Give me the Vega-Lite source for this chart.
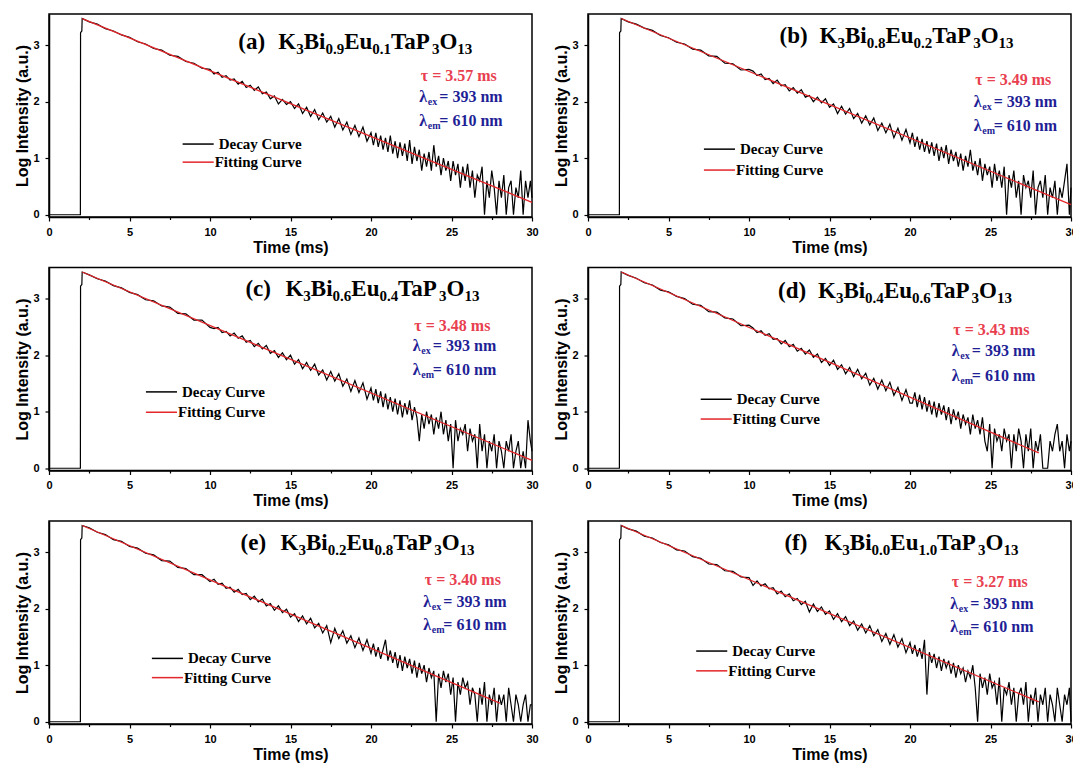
{
"$schema":"https://vega.github.io/schema/vega-lite/v6.json",
"background":"white",
"padding":{"left":14,"top":13,"right":5,"bottom":5},
"datasets":{
"a":[{"t":0,"v":0},{"t":1.95,"v":0},{"t":1.96,"v":3.22},{"t":2.04,"v":3.25},{"t":2.06,"v":3.47},{"t":2.5,"v":3.41},{"t":3,"v":3.37},{"t":3.5,"v":3.29},{"t":4,"v":3.25},{"t":4.5,"v":3.18},{"t":5,"v":3.14},{"t":5.5,"v":3.06},{"t":6,"v":3.02},{"t":6.5,"v":2.94},{"t":7,"v":2.91},{"t":7.5,"v":2.82},{"t":8,"v":2.8},{"t":8.5,"v":2.71},{"t":9,"v":2.68},{"t":9.5,"v":2.59},{"t":10,"v":2.57},
{"t":10.25,"v":2.49},{"t":10.5,"v":2.52},{"t":10.75,"v":2.43},{"t":11,"v":2.46},{"t":11.25,"v":2.38},{"t":11.5,"v":2.4},{"t":11.75,"v":2.31},{"t":12,"v":2.36},{"t":12.25,"v":2.25},{"t":12.5,"v":2.29},{"t":12.75,"v":2.2},{"t":13,"v":2.26},{"t":13.25,"v":2.14},{"t":13.5,"v":2.17},{"t":13.75,"v":2.05},{"t":14,"v":2.1},{"t":14.25,"v":1.96},{"t":14.5,"v":2.04},{"t":14.75,"v":1.95},{"t":15,"v":2.0},{"t":15.25,"v":1.88},{"t":15.5,"v":1.96},{"t":15.75,"v":1.79},{"t":16,"v":1.9},{"t":16.25,"v":1.74},{"t":16.5,"v":1.86},{"t":16.75,"v":1.68},{"t":17,"v":1.8},{"t":17.25,"v":1.64},{"t":17.5,"v":1.74},{"t":17.75,"v":1.55},{"t":18,"v":1.7},{"t":18.25,"v":1.5},{"t":18.5,"v":1.64},{"t":18.75,"v":1.42},{"t":19,"v":1.58},{"t":19.25,"v":1.38},{"t":19.5,"v":1.55},{"t":19.75,"v":1.3},{"t":20,"v":1.45},
{"t":20.15,"v":1.23},{"t":20.3,"v":1.45},{"t":20.45,"v":1.2},{"t":20.6,"v":1.4},{"t":20.75,"v":1.15},{"t":20.9,"v":1.36},{"t":21.05,"v":1.11},{"t":21.2,"v":1.4},{"t":21.35,"v":1.08},{"t":21.5,"v":1.3},{"t":21.65,"v":1.0},{"t":21.8,"v":1.28},{"t":21.95,"v":1.04},{"t":22.1,"v":1.26},{"t":22.25,"v":0.95},{"t":22.4,"v":1.32},{"t":22.55,"v":0.9},{"t":22.7,"v":1.2},{"t":22.85,"v":0.95},{"t":23,"v":1.15},{"t":23.15,"v":0.78},{"t":23.3,"v":1.08},{"t":23.45,"v":0.85},{"t":23.6,"v":1.11},{"t":23.75,"v":0.78},{"t":23.9,"v":1.23},{"t":24.05,"v":0.85},{"t":24.2,"v":1.04},{"t":24.35,"v":0.7},{"t":24.5,"v":1.0},{"t":24.65,"v":0.78},{"t":24.8,"v":0.95},{"t":24.95,"v":0.6},{"t":25.1,"v":0.95},{"t":25.25,"v":0.7},{"t":25.4,"v":0.9},{"t":25.55,"v":0.48},{"t":25.7,"v":0.85},{"t":25.85,"v":0.6},{"t":26,"v":0.9},{"t":26.15,"v":0.48},{"t":26.3,"v":0.78},{"t":26.45,"v":0.3},{"t":26.6,"v":0.7},{"t":26.75,"v":0.6},{"t":26.9,"v":0.85},{"t":27.05,"v":0},{"t":27.2,"v":0.6},{"t":27.35,"v":0.3},{"t":27.5,"v":0.78},{"t":27.65,"v":0.48},{"t":27.8,"v":0},{"t":27.95,"v":0.6},{"t":28.1,"v":0.3},{"t":28.25,"v":0.7},{"t":28.4,"v":0},{"t":28.55,"v":0.48},{"t":28.7,"v":0.6},{"t":28.85,"v":0},{"t":29,"v":0.48},{"t":29.15,"v":0.3},{"t":29.3,"v":0.78},{"t":29.45,"v":0},{"t":29.6,"v":0.6},{"t":29.75,"v":0.3},{"t":29.9,"v":0.6},{"t":30,"v":0.3}],
"b":[{"t":0,"v":0},{"t":1.95,"v":0},{"t":1.96,"v":3.22},{"t":2.04,"v":3.25},{"t":2.06,"v":3.47},{"t":2.5,"v":3.41},{"t":3,"v":3.37},{"t":3.5,"v":3.3},{"t":4,"v":3.26},{"t":4.5,"v":3.17},{"t":5,"v":3.13},{"t":5.5,"v":3.05},{"t":6,"v":3.02},{"t":6.5,"v":2.93},{"t":7,"v":2.91},{"t":7.5,"v":2.81},{"t":8,"v":2.8},{"t":8.5,"v":2.68},{"t":9,"v":2.67},{"t":9.5,"v":2.56},{"t":10,"v":2.57},
{"t":10.25,"v":2.54},{"t":10.5,"v":2.46},{"t":10.75,"v":2.49},{"t":11,"v":2.39},{"t":11.25,"v":2.41},{"t":11.5,"v":2.32},{"t":11.75,"v":2.38},{"t":12,"v":2.28},{"t":12.25,"v":2.3},{"t":12.5,"v":2.19},{"t":12.75,"v":2.25},{"t":13,"v":2.15},{"t":13.25,"v":2.21},{"t":13.5,"v":2.08},{"t":13.75,"v":2.11},{"t":14,"v":2.0},{"t":14.25,"v":2.08},{"t":14.5,"v":1.98},{"t":14.75,"v":2.05},{"t":15,"v":1.9},{"t":15.25,"v":1.96},{"t":15.5,"v":1.79},{"t":15.75,"v":1.92},{"t":16,"v":1.78},{"t":16.25,"v":1.88},{"t":16.5,"v":1.7},{"t":16.75,"v":1.79},{"t":17,"v":1.62},{"t":17.25,"v":1.75},{"t":17.5,"v":1.59},{"t":17.75,"v":1.71},{"t":18,"v":1.49},{"t":18.25,"v":1.62},{"t":18.5,"v":1.45},{"t":18.75,"v":1.6},{"t":19,"v":1.36},{"t":19.25,"v":1.53},{"t":19.5,"v":1.32},{"t":19.75,"v":1.51},{"t":20,"v":1.27},
{"t":20.15,"v":1.45},{"t":20.3,"v":1.2},{"t":20.45,"v":1.38},{"t":20.6,"v":1.15},{"t":20.75,"v":1.34},{"t":20.9,"v":1.11},{"t":21.05,"v":1.3},{"t":21.2,"v":1.08},{"t":21.35,"v":1.28},{"t":21.5,"v":1.04},{"t":21.65,"v":1.26},{"t":21.8,"v":0.95},{"t":21.95,"v":1.2},{"t":22.1,"v":1.0},{"t":22.25,"v":1.23},{"t":22.4,"v":0.9},{"t":22.55,"v":1.15},{"t":22.7,"v":0.95},{"t":22.85,"v":1.11},{"t":23,"v":0.85},{"t":23.15,"v":1.08},{"t":23.3,"v":0.78},{"t":23.45,"v":1.04},{"t":23.6,"v":0.85},{"t":23.75,"v":1.15},{"t":23.9,"v":0.78},{"t":24.05,"v":0.95},{"t":24.2,"v":0.7},{"t":24.35,"v":1.0},{"t":24.5,"v":0.6},{"t":24.65,"v":0.9},{"t":24.8,"v":0.7},{"t":24.95,"v":0.85},{"t":25.1,"v":0.48},{"t":25.25,"v":0.9},{"t":25.4,"v":0.6},{"t":25.55,"v":0.78},{"t":25.7,"v":0.48},{"t":25.85,"v":0.85},{"t":26,"v":0},{"t":26.15,"v":0.7},{"t":26.3,"v":0.48},{"t":26.45,"v":0.78},{"t":26.6,"v":0.3},{"t":26.75,"v":0.6},{"t":26.9,"v":0},{"t":27.05,"v":0.7},{"t":27.2,"v":0.48},{"t":27.35,"v":0.6},{"t":27.5,"v":0.3},{"t":27.65,"v":0.78},{"t":27.8,"v":0},{"t":27.95,"v":0.48},{"t":28.1,"v":0.6},{"t":28.25,"v":0.3},{"t":28.4,"v":0.7},{"t":28.55,"v":0},{"t":28.7,"v":0.48},{"t":28.85,"v":0.3},{"t":29,"v":0.6},{"t":29.15,"v":0},{"t":29.3,"v":0.48},{"t":29.45,"v":0.3},{"t":29.6,"v":0.6},{"t":29.75,"v":0.9},{"t":29.9,"v":0},{"t":30,"v":0.48}],
"c":[{"t":0,"v":0},{"t":1.95,"v":0},{"t":1.96,"v":3.22},{"t":2.04,"v":3.25},{"t":2.06,"v":3.47},{"t":2.5,"v":3.42},{"t":3,"v":3.35},{"t":3.5,"v":3.31},{"t":4,"v":3.23},{"t":4.5,"v":3.19},{"t":5,"v":3.11},{"t":5.5,"v":3.07},{"t":6,"v":2.98},{"t":6.5,"v":2.96},{"t":7,"v":2.87},{"t":7.5,"v":2.85},{"t":8,"v":2.74},{"t":8.5,"v":2.73},{"t":9,"v":2.62},{"t":9.5,"v":2.62},{"t":10,"v":2.49},
{"t":10.25,"v":2.47},{"t":10.5,"v":2.49},{"t":10.75,"v":2.4},{"t":11,"v":2.42},{"t":11.25,"v":2.34},{"t":11.5,"v":2.39},{"t":11.75,"v":2.3},{"t":12,"v":2.34},{"t":12.25,"v":2.23},{"t":12.5,"v":2.26},{"t":12.75,"v":2.15},{"t":13,"v":2.21},{"t":13.25,"v":2.11},{"t":13.5,"v":2.17},{"t":13.75,"v":2.03},{"t":14,"v":2.08},{"t":14.25,"v":1.96},{"t":14.5,"v":2.04},{"t":14.75,"v":1.92},{"t":15,"v":2.0},{"t":15.25,"v":1.84},{"t":15.5,"v":1.92},{"t":15.75,"v":1.76},{"t":16,"v":1.87},{"t":16.25,"v":1.73},{"t":16.5,"v":1.84},{"t":16.75,"v":1.65},{"t":17,"v":1.74},{"t":17.25,"v":1.56},{"t":17.5,"v":1.71},{"t":17.75,"v":1.54},{"t":18,"v":1.67},{"t":18.25,"v":1.45},{"t":18.5,"v":1.58},{"t":18.75,"v":1.36},{"t":19,"v":1.55},{"t":19.25,"v":1.34},{"t":19.5,"v":1.51},{"t":19.75,"v":1.22},{"t":20,"v":1.42},
{"t":20.15,"v":1.2},{"t":20.3,"v":1.4},{"t":20.45,"v":1.15},{"t":20.6,"v":1.36},{"t":20.75,"v":1.08},{"t":20.9,"v":1.32},{"t":21.05,"v":1.04},{"t":21.2,"v":1.26},{"t":21.35,"v":1.0},{"t":21.5,"v":1.23},{"t":21.65,"v":0.95},{"t":21.8,"v":1.2},{"t":21.95,"v":0.9},{"t":22.1,"v":1.15},{"t":22.25,"v":0.95},{"t":22.4,"v":1.2},{"t":22.55,"v":0.85},{"t":22.7,"v":1.08},{"t":22.85,"v":0.9},{"t":23,"v":0.48},{"t":23.15,"v":0.95},{"t":23.3,"v":0.7},{"t":23.45,"v":1.0},{"t":23.6,"v":0.78},{"t":23.75,"v":0.95},{"t":23.9,"v":0.6},{"t":24.05,"v":0.9},{"t":24.2,"v":0.7},{"t":24.35,"v":1.0},{"t":24.5,"v":0.6},{"t":24.65,"v":0.85},{"t":24.8,"v":0.48},{"t":24.95,"v":0.78},{"t":25.1,"v":0},{"t":25.25,"v":0.85},{"t":25.4,"v":0.48},{"t":25.55,"v":0.7},{"t":25.7,"v":0.6},{"t":25.85,"v":0.78},{"t":26,"v":0.3},{"t":26.15,"v":0.7},{"t":26.3,"v":0.48},{"t":26.45,"v":0.6},{"t":26.6,"v":0},{"t":26.75,"v":0.78},{"t":26.9,"v":0.3},{"t":27.05,"v":0.6},{"t":27.2,"v":0},{"t":27.35,"v":0.48},{"t":27.5,"v":0.3},{"t":27.65,"v":0.6},{"t":27.8,"v":0},{"t":27.95,"v":0.48},{"t":28.1,"v":0.3},{"t":28.25,"v":0},{"t":28.4,"v":0.48},{"t":28.55,"v":0.3},{"t":28.7,"v":0.6},{"t":28.85,"v":0},{"t":29,"v":0.3},{"t":29.15,"v":0.48},{"t":29.3,"v":0},{"t":29.45,"v":0.3},{"t":29.6,"v":0},{"t":29.75,"v":0.85},{"t":29.9,"v":0.48},{"t":30,"v":0.3}],
"d":[{"t":0,"v":0},{"t":1.95,"v":0},{"t":1.96,"v":3.22},{"t":2.04,"v":3.25},{"t":2.06,"v":3.47},{"t":2.5,"v":3.41},{"t":3,"v":3.36},{"t":3.5,"v":3.28},{"t":4,"v":3.24},{"t":4.5,"v":3.15},{"t":5,"v":3.12},{"t":5.5,"v":3.04},{"t":6,"v":3.0},{"t":6.5,"v":2.9},{"t":7,"v":2.88},{"t":7.5,"v":2.77},{"t":8,"v":2.76},{"t":8.5,"v":2.66},{"t":9,"v":2.64},{"t":9.5,"v":2.52},{"t":10,"v":2.53},
{"t":10.25,"v":2.48},{"t":10.5,"v":2.4},{"t":10.75,"v":2.43},{"t":11,"v":2.35},{"t":11.25,"v":2.38},{"t":11.5,"v":2.28},{"t":11.75,"v":2.29},{"t":12,"v":2.2},{"t":12.25,"v":2.26},{"t":12.5,"v":2.15},{"t":12.75,"v":2.19},{"t":13,"v":2.07},{"t":13.25,"v":2.12},{"t":13.5,"v":2.02},{"t":13.75,"v":2.09},{"t":14,"v":1.96},{"t":14.25,"v":2.02},{"t":14.5,"v":1.87},{"t":14.75,"v":1.94},{"t":15,"v":1.82},{"t":15.25,"v":1.91},{"t":15.5,"v":1.75},{"t":15.75,"v":1.83},{"t":16,"v":1.67},{"t":16.25,"v":1.78},{"t":16.5,"v":1.62},{"t":16.75,"v":1.75},{"t":17,"v":1.58},{"t":17.25,"v":1.68},{"t":17.5,"v":1.47},{"t":17.75,"v":1.59},{"t":18,"v":1.4},{"t":18.25,"v":1.56},{"t":18.5,"v":1.37},{"t":18.75,"v":1.52},{"t":19,"v":1.29},{"t":19.25,"v":1.43},{"t":19.5,"v":1.2},{"t":19.75,"v":1.39},{"t":20,"v":1.15},
{"t":20.15,"v":1.15},{"t":20.3,"v":1.34},{"t":20.45,"v":1.08},{"t":20.6,"v":1.3},{"t":20.75,"v":1.04},{"t":20.9,"v":1.26},{"t":21.05,"v":1.0},{"t":21.2,"v":1.2},{"t":21.35,"v":0.95},{"t":21.5,"v":1.18},{"t":21.65,"v":0.9},{"t":21.8,"v":1.15},{"t":21.95,"v":0.95},{"t":22.1,"v":1.11},{"t":22.25,"v":0.85},{"t":22.4,"v":1.08},{"t":22.55,"v":0.78},{"t":22.7,"v":1.04},{"t":22.85,"v":0.85},{"t":23,"v":1.0},{"t":23.15,"v":0.7},{"t":23.3,"v":0.95},{"t":23.45,"v":0.78},{"t":23.6,"v":0.9},{"t":23.75,"v":0.6},{"t":23.9,"v":0.95},{"t":24.05,"v":0.7},{"t":24.2,"v":0.85},{"t":24.35,"v":0.6},{"t":24.5,"v":0.9},{"t":24.65,"v":0.48},{"t":24.8,"v":0.3},{"t":24.95,"v":0.78},{"t":25.1,"v":0},{"t":25.25,"v":0.7},{"t":25.4,"v":0.48},{"t":25.55,"v":0.6},{"t":25.7,"v":0.3},{"t":25.85,"v":0.7},{"t":26,"v":0.48},{"t":26.15,"v":0.6},{"t":26.3,"v":0},{"t":26.45,"v":0.6},{"t":26.6,"v":0.3},{"t":26.75,"v":0.7},{"t":26.9,"v":0.48},{"t":27.05,"v":0},{"t":27.2,"v":0.6},{"t":27.35,"v":0.3},{"t":27.5,"v":0.7},{"t":27.65,"v":0},{"t":27.8,"v":0.48},{"t":27.95,"v":0.3},{"t":28.1,"v":0.6},{"t":28.25,"v":0},{"t":28.4,"v":0},{"t":28.55,"v":0},{"t":28.7,"v":0.48},{"t":28.85,"v":0.3},{"t":29,"v":0.6},{"t":29.15,"v":0.78},{"t":29.3,"v":0.3},{"t":29.45,"v":0.48},{"t":29.6,"v":0},{"t":29.75,"v":0.6},{"t":29.9,"v":0.3},{"t":30,"v":0.48}],
"e":[{"t":0,"v":0},{"t":1.95,"v":0},{"t":1.96,"v":3.22},{"t":2.04,"v":3.25},{"t":2.06,"v":3.47},{"t":2.5,"v":3.43},{"t":3,"v":3.35},{"t":3.5,"v":3.31},{"t":4,"v":3.22},{"t":4.5,"v":3.19},{"t":5,"v":3.1},{"t":5.5,"v":3.07},{"t":6,"v":2.98},{"t":6.5,"v":2.95},{"t":7,"v":2.85},{"t":7.5,"v":2.84},{"t":8,"v":2.73},{"t":8.5,"v":2.71},{"t":9,"v":2.6},{"t":9.5,"v":2.6},{"t":10,"v":2.48},
{"t":10.25,"v":2.52},{"t":10.5,"v":2.43},{"t":10.75,"v":2.45},{"t":11,"v":2.36},{"t":11.25,"v":2.38},{"t":11.5,"v":2.29},{"t":11.75,"v":2.34},{"t":12,"v":2.25},{"t":12.25,"v":2.27},{"t":12.5,"v":2.16},{"t":12.75,"v":2.22},{"t":13,"v":2.12},{"t":13.25,"v":2.17},{"t":13.5,"v":2.05},{"t":13.75,"v":2.09},{"t":14,"v":1.97},{"t":14.25,"v":2.05},{"t":14.5,"v":1.93},{"t":14.75,"v":1.99},{"t":15,"v":1.85},{"t":15.25,"v":1.91},{"t":15.5,"v":1.77},{"t":15.75,"v":1.87},{"t":16,"v":1.73},{"t":16.25,"v":1.83},{"t":16.5,"v":1.66},{"t":16.75,"v":1.74},{"t":17,"v":1.57},{"t":17.25,"v":1.7},{"t":17.5,"v":1.4},{"t":17.75,"v":1.65},{"t":18,"v":1.47},{"t":18.25,"v":1.61},{"t":18.5,"v":1.39},{"t":18.75,"v":1.52},{"t":19,"v":1.31},{"t":19.25,"v":1.48},{"t":19.5,"v":1.26},{"t":19.75,"v":1.45},{"t":20,"v":1.21},
{"t":20.15,"v":1.38},{"t":20.3,"v":1.15},{"t":20.45,"v":1.32},{"t":20.6,"v":1.11},{"t":20.75,"v":1.28},{"t":20.9,"v":1.45},{"t":21.05,"v":1.08},{"t":21.2,"v":1.26},{"t":21.35,"v":1.04},{"t":21.5,"v":1.23},{"t":21.65,"v":0.95},{"t":21.8,"v":1.18},{"t":21.95,"v":0.9},{"t":22.1,"v":1.15},{"t":22.25,"v":0.95},{"t":22.4,"v":1.11},{"t":22.55,"v":0.85},{"t":22.7,"v":1.08},{"t":22.85,"v":0.78},{"t":23,"v":1.04},{"t":23.15,"v":0.85},{"t":23.3,"v":1.0},{"t":23.45,"v":0.7},{"t":23.6,"v":0.95},{"t":23.75,"v":0.78},{"t":23.9,"v":0.9},{"t":24.05,"v":0},{"t":24.2,"v":0.85},{"t":24.35,"v":0.6},{"t":24.5,"v":0.9},{"t":24.65,"v":0.7},{"t":24.8,"v":0.85},{"t":24.95,"v":0.48},{"t":25.1,"v":0.78},{"t":25.25,"v":0},{"t":25.4,"v":0.7},{"t":25.55,"v":0.48},{"t":25.7,"v":0.78},{"t":25.85,"v":0.6},{"t":26,"v":0.7},{"t":26.15,"v":0.3},{"t":26.3,"v":0.6},{"t":26.45,"v":0.48},{"t":26.6,"v":0},{"t":26.75,"v":0.6},{"t":26.9,"v":0.3},{"t":27.05,"v":0.7},{"t":27.2,"v":0},{"t":27.35,"v":0.48},{"t":27.5,"v":0.3},{"t":27.65,"v":0.6},{"t":27.8,"v":0},{"t":27.95,"v":0.48},{"t":28.1,"v":0.3},{"t":28.25,"v":0.48},{"t":28.4,"v":0},{"t":28.55,"v":0.6},{"t":28.7,"v":0.3},{"t":28.85,"v":0},{"t":29,"v":0.48},{"t":29.15,"v":0.3},{"t":29.3,"v":0},{"t":29.45,"v":0.3},{"t":29.6,"v":0.48},{"t":29.75,"v":0},{"t":29.9,"v":0.3},{"t":30,"v":0.3}],
"f":[{"t":0,"v":0},{"t":1.95,"v":0},{"t":1.96,"v":3.22},{"t":2.04,"v":3.25},{"t":2.06,"v":3.47},{"t":2.5,"v":3.41},{"t":3,"v":3.37},{"t":3.5,"v":3.28},{"t":4,"v":3.25},{"t":4.5,"v":3.17},{"t":5,"v":3.13},{"t":5.5,"v":3.04},{"t":6,"v":3.02},{"t":6.5,"v":2.92},{"t":7,"v":2.89},{"t":7.5,"v":2.79},{"t":8,"v":2.78},{"t":8.5,"v":2.67},{"t":9,"v":2.66},{"t":9.5,"v":2.56},{"t":10,"v":2.55},
{"t":10.25,"v":2.41},{"t":10.5,"v":2.49},{"t":10.75,"v":2.4},{"t":11,"v":2.44},{"t":11.25,"v":2.35},{"t":11.5,"v":2.37},{"t":11.75,"v":2.26},{"t":12,"v":2.31},{"t":12.25,"v":2.21},{"t":12.5,"v":2.26},{"t":12.75,"v":2.14},{"t":13,"v":2.18},{"t":13.25,"v":2.07},{"t":13.5,"v":2.13},{"t":13.75,"v":1.94},{"t":14,"v":2.08},{"t":14.25,"v":1.95},{"t":14.5,"v":2.03},{"t":14.75,"v":1.9},{"t":15,"v":1.96},{"t":15.25,"v":1.81},{"t":15.5,"v":1.91},{"t":15.75,"v":1.77},{"t":16,"v":1.86},{"t":16.25,"v":1.7},{"t":16.5,"v":1.78},{"t":16.75,"v":1.62},{"t":17,"v":1.73},{"t":17.25,"v":1.57},{"t":17.5,"v":1.7},{"t":17.75,"v":1.52},{"t":18,"v":1.63},{"t":18.25,"v":1.42},{"t":18.5,"v":1.56},{"t":18.75,"v":1.37},{"t":19,"v":1.54},{"t":19.25,"v":1.32},{"t":19.5,"v":1.47},{"t":19.75,"v":1.22},{"t":20,"v":1.4},
{"t":20.15,"v":1.2},{"t":20.3,"v":1.36},{"t":20.45,"v":1.15},{"t":20.6,"v":1.3},{"t":20.75,"v":1.11},{"t":20.9,"v":1.45},{"t":21.05,"v":0.48},{"t":21.2,"v":1.23},{"t":21.35,"v":1.04},{"t":21.5,"v":1.2},{"t":21.65,"v":0.95},{"t":21.8,"v":1.15},{"t":21.95,"v":0.9},{"t":22.1,"v":1.11},{"t":22.25,"v":0.95},{"t":22.4,"v":1.08},{"t":22.55,"v":0.85},{"t":22.7,"v":1.04},{"t":22.85,"v":0.78},{"t":23,"v":1.0},{"t":23.15,"v":0.85},{"t":23.3,"v":0.95},{"t":23.45,"v":0.7},{"t":23.6,"v":0.9},{"t":23.75,"v":0.78},{"t":23.9,"v":1.0},{"t":24.05,"v":0.6},{"t":24.2,"v":0},{"t":24.35,"v":0.85},{"t":24.5,"v":0.6},{"t":24.65,"v":0.78},{"t":24.8,"v":0.48},{"t":24.95,"v":0.85},{"t":25.1,"v":0.6},{"t":25.25,"v":0.7},{"t":25.4,"v":0.3},{"t":25.55,"v":0.78},{"t":25.7,"v":0},{"t":25.85,"v":0.6},{"t":26,"v":0.48},{"t":26.15,"v":0.7},{"t":26.3,"v":0.3},{"t":26.45,"v":0.6},{"t":26.6,"v":0},{"t":26.75,"v":0.48},{"t":26.9,"v":0.6},{"t":27.05,"v":0.3},{"t":27.2,"v":0.7},{"t":27.35,"v":0},{"t":27.5,"v":0.48},{"t":27.65,"v":0.3},{"t":27.8,"v":0.6},{"t":27.95,"v":0},{"t":28.1,"v":0.48},{"t":28.25,"v":0.3},{"t":28.4,"v":0.6},{"t":28.55,"v":0},{"t":28.7,"v":0.48},{"t":28.85,"v":0.3},{"t":29,"v":0},{"t":29.15,"v":0.6},{"t":29.3,"v":0.3},{"t":29.45,"v":0},{"t":29.6,"v":0.48},{"t":29.75,"v":0.3},{"t":29.9,"v":0.6},{"t":30,"v":0}],
"fit":[{"p":"a","t":2.06,"v":3.47},{"p":"a","t":30,"v":0.22},{"p":"b","t":2.06,"v":3.47},{"p":"b","t":30,"v":0.18},{"p":"c","t":2.06,"v":3.47},{"p":"c","t":30,"v":0.14},{"p":"d","t":2.06,"v":3.47},{"p":"d","t":28,"v":0.27},{"p":"e","t":2.06,"v":3.47},{"p":"e","t":28,"v":0.33},{"p":"f","t":2.06,"v":3.47},{"p":"f","t":28,"v":0.35}],
"info":[{"p":"a","lab":"(a)","s1":"0.9","s2":"0.1","tau":"τ = 3.57 ms"},{"p":"b","lab":"(b)","s1":"0.8","s2":"0.2","tau":"τ = 3.49 ms"},{"p":"c","lab":"(c)","s1":"0.6","s2":"0.4","tau":"τ = 3.48 ms"},{"p":"d","lab":"(d)","s1":"0.4","s2":"0.6","tau":"τ = 3.43 ms"},{"p":"e","lab":"(e)","s1":"0.2","s2":"0.8","tau":"τ = 3.40 ms"},{"p":"f","lab":"(f)","s1":"0.0","s2":"1.0","tau":"τ = 3.27 ms"}]
},
"columns":2,
"spacing":{"row":50.5,"column":56},
"bounds":"flush",
"concat":[
{"width":483,"height":203,"view":{"stroke":"black","strokeWidth":1.5},"layer":[
{"data":{"name":"a"},"mark":{"type":"line","color":"black","strokeWidth":1.2},"encoding":{"x":{"field":"t","type":"quantitative","scale":{"domain":[0,30],"nice":false,"zero":false},"axis":{"title":"Time (ms)","values":[0,2.5,5,7.5,10,12.5,15,17.5,20,22.5,25,27.5,30],"labelExpr":"datum.value % 5 === 0 ? format(datum.value, 'd') : ''","tickSize":{"condition":{"test":"datum.value % 5 === 0","value":4},"value":2.5}}},"y":{"field":"v","type":"quantitative","scale":{"domain":[-0.04,3.55],"nice":false,"zero":false},"axis":{"title":"Log Intensity (a.u.)","values":[0,0.5,1,1.5,2,2.5,3,3.5],"labelExpr":"datum.value % 1 === 0 ? format(datum.value, 'd') : ''","tickSize":{"condition":{"test":"datum.value % 1 === 0","value":4},"value":2.5}}}}},
{"data":{"name":"fit"},"transform":[{"filter":"datum.p==='a'"}],"mark":{"type":"line","color":"#e3262a","strokeWidth":1.3},"encoding":{"x":{"field":"t","type":"quantitative"},"y":{"field":"v","type":"quantitative"}}},
{"data":{"name":"info"},"transform":[{"filter":"datum.p==='a'"}],"layer":[
{"encoding":{"x":{"datum":11.76},"y":{"datum":2.93}},"layer":[
{"mark":{"type":"text","style":"big"},"encoding":{"text":{"field":"lab"}}},
{"mark":{"type":"text","style":"big","dx":40},"encoding":{"text":{"value":"K"}}},
{"mark":{"type":"text","style":"sub","dx":57.9},"encoding":{"text":{"value":"3"}}},
{"mark":{"type":"text","style":"big","dx":65.4},"encoding":{"text":{"value":"Bi"}}},
{"mark":{"type":"text","style":"sub","dx":87.1},"encoding":{"text":{"field":"s1"}}},
{"mark":{"type":"text","style":"big","dx":105.9},"encoding":{"text":{"value":"Eu"}}},
{"mark":{"type":"text","style":"sub","dx":134},"encoding":{"text":{"field":"s2"}}},
{"mark":{"type":"text","style":"big","dx":152.7},"encoding":{"text":{"value":"TaP"}}},
{"mark":{"type":"text","style":"sub","dx":193.6},"encoding":{"text":{"value":"3"}}},
{"mark":{"type":"text","style":"big","dx":201.1},"encoding":{"text":{"value":"O"}}},
{"mark":{"type":"text","style":"sub","dx":219},"encoding":{"text":{"value":"13"}}}]},
{"mark":{"type":"text","style":"tau","dx":1.5},"encoding":{"x":{"datum":23},"y":{"datum":2.46},"text":{"field":"tau"}}},
{"encoding":{"x":{"datum":23},"y":{"datum":2.08}},"layer":[
{"mark":{"type":"text","style":"lam"},"encoding":{"text":{"value":"λ"}}},
{"mark":{"type":"text","style":"lsub","dx":8.5},"encoding":{"text":{"value":"ex"}}},
{"mark":{"type":"text","style":"lam","dx":20},"encoding":{"text":{"value":"= 393 nm"}}}]},
{"encoding":{"x":{"datum":23},"y":{"datum":1.65}},"layer":[
{"mark":{"type":"text","style":"lam"},"encoding":{"text":{"value":"λ"}}},
{"mark":{"type":"text","style":"lsub","dx":8.5},"encoding":{"text":{"value":"em"}}},
{"mark":{"type":"text","style":"lam","dx":20},"encoding":{"text":{"value":"= 610 nm"}}}]},
{"mark":{"type":"rule","color":"black","strokeWidth":1.5},"encoding":{"x":{"datum":8.3},"x2":{"datum":10.23},"y":{"datum":1.25}}},
{"mark":{"type":"rule","color":"#e3262a","strokeWidth":1.5},"encoding":{"x":{"datum":8.3},"x2":{"datum":10.23},"y":{"datum":0.93}}},
{"mark":{"type":"text","style":"leg","dx":5},"encoding":{"x":{"datum":10.23},"y":{"datum":1.25},"text":{"value":"Decay Curve"}}},
{"mark":{"type":"text","style":"leg","dx":1},"encoding":{"x":{"datum":10.23},"y":{"datum":0.93},"text":{"value":"Fitting Curve"}}}]}]},
{"width":483,"height":203,"view":{"stroke":"black","strokeWidth":1.5},"layer":[
{"data":{"name":"b"},"mark":{"type":"line","color":"black","strokeWidth":1.2},"encoding":{"x":{"field":"t","type":"quantitative","scale":{"domain":[0,30],"nice":false,"zero":false},"axis":{"title":"Time (ms)","values":[0,2.5,5,7.5,10,12.5,15,17.5,20,22.5,25,27.5,30],"labelExpr":"datum.value % 5 === 0 ? format(datum.value, 'd') : ''","tickSize":{"condition":{"test":"datum.value % 5 === 0","value":4},"value":2.5}}},"y":{"field":"v","type":"quantitative","scale":{"domain":[-0.04,3.55],"nice":false,"zero":false},"axis":{"title":"Log Intensity (a.u.)","values":[0,0.5,1,1.5,2,2.5,3,3.5],"labelExpr":"datum.value % 1 === 0 ? format(datum.value, 'd') : ''","tickSize":{"condition":{"test":"datum.value % 1 === 0","value":4},"value":2.5}}}}},
{"data":{"name":"fit"},"transform":[{"filter":"datum.p==='b'"}],"mark":{"type":"line","color":"#e3262a","strokeWidth":1.3},"encoding":{"x":{"field":"t","type":"quantitative"},"y":{"field":"v","type":"quantitative"}}},
{"data":{"name":"info"},"transform":[{"filter":"datum.p==='b'"}],"layer":[
{"encoding":{"x":{"datum":11.9},"y":{"datum":3.03}},"layer":[
{"mark":{"type":"text","style":"big"},"encoding":{"text":{"field":"lab"}}},
{"mark":{"type":"text","style":"big","dx":40},"encoding":{"text":{"value":"K"}}},
{"mark":{"type":"text","style":"sub","dx":57.9},"encoding":{"text":{"value":"3"}}},
{"mark":{"type":"text","style":"big","dx":65.4},"encoding":{"text":{"value":"Bi"}}},
{"mark":{"type":"text","style":"sub","dx":87.1},"encoding":{"text":{"field":"s1"}}},
{"mark":{"type":"text","style":"big","dx":105.9},"encoding":{"text":{"value":"Eu"}}},
{"mark":{"type":"text","style":"sub","dx":134},"encoding":{"text":{"field":"s2"}}},
{"mark":{"type":"text","style":"big","dx":152.7},"encoding":{"text":{"value":"TaP"}}},
{"mark":{"type":"text","style":"sub","dx":193.6},"encoding":{"text":{"value":"3"}}},
{"mark":{"type":"text","style":"big","dx":201.1},"encoding":{"text":{"value":"O"}}},
{"mark":{"type":"text","style":"sub","dx":219},"encoding":{"text":{"value":"13"}}}]},
{"mark":{"type":"text","style":"tau","dx":1.5},"encoding":{"x":{"datum":23.96},"y":{"datum":2.38},"text":{"field":"tau"}}},
{"encoding":{"x":{"datum":23.96},"y":{"datum":2.0}},"layer":[
{"mark":{"type":"text","style":"lam"},"encoding":{"text":{"value":"λ"}}},
{"mark":{"type":"text","style":"lsub","dx":8.5},"encoding":{"text":{"value":"ex"}}},
{"mark":{"type":"text","style":"lam","dx":20},"encoding":{"text":{"value":"= 393 nm"}}}]},
{"encoding":{"x":{"datum":23.96},"y":{"datum":1.57}},"layer":[
{"mark":{"type":"text","style":"lam"},"encoding":{"text":{"value":"λ"}}},
{"mark":{"type":"text","style":"lsub","dx":8.5},"encoding":{"text":{"value":"em"}}},
{"mark":{"type":"text","style":"lam","dx":20},"encoding":{"text":{"value":"= 610 nm"}}}]},
{"mark":{"type":"rule","color":"black","strokeWidth":1.5},"encoding":{"x":{"datum":7.2},"x2":{"datum":9.13},"y":{"datum":1.16}}},
{"mark":{"type":"rule","color":"#e3262a","strokeWidth":1.5},"encoding":{"x":{"datum":7.2},"x2":{"datum":9.13},"y":{"datum":0.79}}},
{"mark":{"type":"text","style":"leg","dx":5},"encoding":{"x":{"datum":9.13},"y":{"datum":1.16},"text":{"value":"Decay Curve"}}},
{"mark":{"type":"text","style":"leg","dx":1},"encoding":{"x":{"datum":9.13},"y":{"datum":0.79},"text":{"value":"Fitting Curve"}}}]}]},
{"width":483,"height":203,"view":{"stroke":"black","strokeWidth":1.5},"layer":[
{"data":{"name":"c"},"mark":{"type":"line","color":"black","strokeWidth":1.2},"encoding":{"x":{"field":"t","type":"quantitative","scale":{"domain":[0,30],"nice":false,"zero":false},"axis":{"title":"Time (ms)","values":[0,2.5,5,7.5,10,12.5,15,17.5,20,22.5,25,27.5,30],"labelExpr":"datum.value % 5 === 0 ? format(datum.value, 'd') : ''","tickSize":{"condition":{"test":"datum.value % 5 === 0","value":4},"value":2.5}}},"y":{"field":"v","type":"quantitative","scale":{"domain":[-0.04,3.55],"nice":false,"zero":false},"axis":{"title":"Log Intensity (a.u.)","values":[0,0.5,1,1.5,2,2.5,3,3.5],"labelExpr":"datum.value % 1 === 0 ? format(datum.value, 'd') : ''","tickSize":{"condition":{"test":"datum.value % 1 === 0","value":4},"value":2.5}}}}},
{"data":{"name":"fit"},"transform":[{"filter":"datum.p==='c'"}],"mark":{"type":"line","color":"#e3262a","strokeWidth":1.3},"encoding":{"x":{"field":"t","type":"quantitative"},"y":{"field":"v","type":"quantitative"}}},
{"data":{"name":"info"},"transform":[{"filter":"datum.p==='c'"}],"layer":[
{"encoding":{"x":{"datum":12.2},"y":{"datum":3.05}},"layer":[
{"mark":{"type":"text","style":"big"},"encoding":{"text":{"field":"lab"}}},
{"mark":{"type":"text","style":"big","dx":40},"encoding":{"text":{"value":"K"}}},
{"mark":{"type":"text","style":"sub","dx":57.9},"encoding":{"text":{"value":"3"}}},
{"mark":{"type":"text","style":"big","dx":65.4},"encoding":{"text":{"value":"Bi"}}},
{"mark":{"type":"text","style":"sub","dx":87.1},"encoding":{"text":{"field":"s1"}}},
{"mark":{"type":"text","style":"big","dx":105.9},"encoding":{"text":{"value":"Eu"}}},
{"mark":{"type":"text","style":"sub","dx":134},"encoding":{"text":{"field":"s2"}}},
{"mark":{"type":"text","style":"big","dx":152.7},"encoding":{"text":{"value":"TaP"}}},
{"mark":{"type":"text","style":"sub","dx":193.6},"encoding":{"text":{"value":"3"}}},
{"mark":{"type":"text","style":"big","dx":201.1},"encoding":{"text":{"value":"O"}}},
{"mark":{"type":"text","style":"sub","dx":219},"encoding":{"text":{"value":"13"}}}]},
{"mark":{"type":"text","style":"tau","dx":1.5},"encoding":{"x":{"datum":22.6},"y":{"datum":2.52},"text":{"field":"tau"}}},
{"encoding":{"x":{"datum":22.6},"y":{"datum":2.17}},"layer":[
{"mark":{"type":"text","style":"lam"},"encoding":{"text":{"value":"λ"}}},
{"mark":{"type":"text","style":"lsub","dx":8.5},"encoding":{"text":{"value":"ex"}}},
{"mark":{"type":"text","style":"lam","dx":20},"encoding":{"text":{"value":"= 393 nm"}}}]},
{"encoding":{"x":{"datum":22.6},"y":{"datum":1.73}},"layer":[
{"mark":{"type":"text","style":"lam"},"encoding":{"text":{"value":"λ"}}},
{"mark":{"type":"text","style":"lsub","dx":8.5},"encoding":{"text":{"value":"em"}}},
{"mark":{"type":"text","style":"lam","dx":20},"encoding":{"text":{"value":"= 610 nm"}}}]},
{"mark":{"type":"rule","color":"black","strokeWidth":1.5},"encoding":{"x":{"datum":6.02},"x2":{"datum":7.95},"y":{"datum":1.35}}},
{"mark":{"type":"rule","color":"#e3262a","strokeWidth":1.5},"encoding":{"x":{"datum":6.02},"x2":{"datum":7.95},"y":{"datum":0.99}}},
{"mark":{"type":"text","style":"leg","dx":5},"encoding":{"x":{"datum":7.95},"y":{"datum":1.35},"text":{"value":"Decay Curve"}}},
{"mark":{"type":"text","style":"leg","dx":1},"encoding":{"x":{"datum":7.95},"y":{"datum":0.99},"text":{"value":"Fitting Curve"}}}]}]},
{"width":483,"height":203,"view":{"stroke":"black","strokeWidth":1.5},"layer":[
{"data":{"name":"d"},"mark":{"type":"line","color":"black","strokeWidth":1.2},"encoding":{"x":{"field":"t","type":"quantitative","scale":{"domain":[0,30],"nice":false,"zero":false},"axis":{"title":"Time (ms)","values":[0,2.5,5,7.5,10,12.5,15,17.5,20,22.5,25,27.5,30],"labelExpr":"datum.value % 5 === 0 ? format(datum.value, 'd') : ''","tickSize":{"condition":{"test":"datum.value % 5 === 0","value":4},"value":2.5}}},"y":{"field":"v","type":"quantitative","scale":{"domain":[-0.04,3.55],"nice":false,"zero":false},"axis":{"title":"Log Intensity (a.u.)","values":[0,0.5,1,1.5,2,2.5,3,3.5],"labelExpr":"datum.value % 1 === 0 ? format(datum.value, 'd') : ''","tickSize":{"condition":{"test":"datum.value % 1 === 0","value":4},"value":2.5}}}}},
{"data":{"name":"fit"},"transform":[{"filter":"datum.p==='d'"}],"mark":{"type":"line","color":"#e3262a","strokeWidth":1.3},"encoding":{"x":{"field":"t","type":"quantitative"},"y":{"field":"v","type":"quantitative"}}},
{"data":{"name":"info"},"transform":[{"filter":"datum.p==='d'"}],"layer":[
{"encoding":{"x":{"datum":11.8},"y":{"datum":3.01}},"layer":[
{"mark":{"type":"text","style":"big"},"encoding":{"text":{"field":"lab"}}},
{"mark":{"type":"text","style":"big","dx":40},"encoding":{"text":{"value":"K"}}},
{"mark":{"type":"text","style":"sub","dx":57.9},"encoding":{"text":{"value":"3"}}},
{"mark":{"type":"text","style":"big","dx":65.4},"encoding":{"text":{"value":"Bi"}}},
{"mark":{"type":"text","style":"sub","dx":87.1},"encoding":{"text":{"field":"s1"}}},
{"mark":{"type":"text","style":"big","dx":105.9},"encoding":{"text":{"value":"Eu"}}},
{"mark":{"type":"text","style":"sub","dx":134},"encoding":{"text":{"field":"s2"}}},
{"mark":{"type":"text","style":"big","dx":152.7},"encoding":{"text":{"value":"TaP"}}},
{"mark":{"type":"text","style":"sub","dx":193.6},"encoding":{"text":{"value":"3"}}},
{"mark":{"type":"text","style":"big","dx":201.1},"encoding":{"text":{"value":"O"}}},
{"mark":{"type":"text","style":"sub","dx":219},"encoding":{"text":{"value":"13"}}}]},
{"mark":{"type":"text","style":"tau","dx":1.5},"encoding":{"x":{"datum":22.6},"y":{"datum":2.45},"text":{"field":"tau"}}},
{"encoding":{"x":{"datum":22.6},"y":{"datum":2.07}},"layer":[
{"mark":{"type":"text","style":"lam"},"encoding":{"text":{"value":"λ"}}},
{"mark":{"type":"text","style":"lsub","dx":8.5},"encoding":{"text":{"value":"ex"}}},
{"mark":{"type":"text","style":"lam","dx":20},"encoding":{"text":{"value":"= 393 nm"}}}]},
{"encoding":{"x":{"datum":22.6},"y":{"datum":1.64}},"layer":[
{"mark":{"type":"text","style":"lam"},"encoding":{"text":{"value":"λ"}}},
{"mark":{"type":"text","style":"lsub","dx":8.5},"encoding":{"text":{"value":"em"}}},
{"mark":{"type":"text","style":"lam","dx":20},"encoding":{"text":{"value":"= 610 nm"}}}]},
{"mark":{"type":"rule","color":"black","strokeWidth":1.5},"encoding":{"x":{"datum":7.0},"x2":{"datum":8.93},"y":{"datum":1.22}}},
{"mark":{"type":"rule","color":"#e3262a","strokeWidth":1.5},"encoding":{"x":{"datum":7.0},"x2":{"datum":8.93},"y":{"datum":0.87}}},
{"mark":{"type":"text","style":"leg","dx":5},"encoding":{"x":{"datum":8.93},"y":{"datum":1.22},"text":{"value":"Decay Curve"}}},
{"mark":{"type":"text","style":"leg","dx":1},"encoding":{"x":{"datum":8.93},"y":{"datum":0.87},"text":{"value":"Fitting Curve"}}}]}]},
{"width":483,"height":203,"view":{"stroke":"black","strokeWidth":1.5},"layer":[
{"data":{"name":"e"},"mark":{"type":"line","color":"black","strokeWidth":1.2},"encoding":{"x":{"field":"t","type":"quantitative","scale":{"domain":[0,30],"nice":false,"zero":false},"axis":{"title":"Time (ms)","values":[0,2.5,5,7.5,10,12.5,15,17.5,20,22.5,25,27.5,30],"labelExpr":"datum.value % 5 === 0 ? format(datum.value, 'd') : ''","tickSize":{"condition":{"test":"datum.value % 5 === 0","value":4},"value":2.5}}},"y":{"field":"v","type":"quantitative","scale":{"domain":[-0.04,3.55],"nice":false,"zero":false},"axis":{"title":"Log Intensity (a.u.)","values":[0,0.5,1,1.5,2,2.5,3,3.5],"labelExpr":"datum.value % 1 === 0 ? format(datum.value, 'd') : ''","tickSize":{"condition":{"test":"datum.value % 1 === 0","value":4},"value":2.5}}}}},
{"data":{"name":"fit"},"transform":[{"filter":"datum.p==='e'"}],"mark":{"type":"line","color":"#e3262a","strokeWidth":1.3},"encoding":{"x":{"field":"t","type":"quantitative"},"y":{"field":"v","type":"quantitative"}}},
{"data":{"name":"info"},"transform":[{"filter":"datum.p==='e'"}],"layer":[
{"encoding":{"x":{"datum":11.9},"y":{"datum":3.03}},"layer":[
{"mark":{"type":"text","style":"big"},"encoding":{"text":{"field":"lab"}}},
{"mark":{"type":"text","style":"big","dx":40},"encoding":{"text":{"value":"K"}}},
{"mark":{"type":"text","style":"sub","dx":57.9},"encoding":{"text":{"value":"3"}}},
{"mark":{"type":"text","style":"big","dx":65.4},"encoding":{"text":{"value":"Bi"}}},
{"mark":{"type":"text","style":"sub","dx":87.1},"encoding":{"text":{"field":"s1"}}},
{"mark":{"type":"text","style":"big","dx":105.9},"encoding":{"text":{"value":"Eu"}}},
{"mark":{"type":"text","style":"sub","dx":134},"encoding":{"text":{"field":"s2"}}},
{"mark":{"type":"text","style":"big","dx":152.7},"encoding":{"text":{"value":"TaP"}}},
{"mark":{"type":"text","style":"sub","dx":193.6},"encoding":{"text":{"value":"3"}}},
{"mark":{"type":"text","style":"big","dx":201.1},"encoding":{"text":{"value":"O"}}},
{"mark":{"type":"text","style":"sub","dx":219},"encoding":{"text":{"value":"13"}}}]},
{"mark":{"type":"text","style":"tau","dx":1.5},"encoding":{"x":{"datum":23.25},"y":{"datum":2.5},"text":{"field":"tau"}}},
{"encoding":{"x":{"datum":23.25},"y":{"datum":2.12}},"layer":[
{"mark":{"type":"text","style":"lam"},"encoding":{"text":{"value":"λ"}}},
{"mark":{"type":"text","style":"lsub","dx":8.5},"encoding":{"text":{"value":"ex"}}},
{"mark":{"type":"text","style":"lam","dx":20},"encoding":{"text":{"value":"= 393 nm"}}}]},
{"encoding":{"x":{"datum":23.25},"y":{"datum":1.71}},"layer":[
{"mark":{"type":"text","style":"lam"},"encoding":{"text":{"value":"λ"}}},
{"mark":{"type":"text","style":"lsub","dx":8.5},"encoding":{"text":{"value":"em"}}},
{"mark":{"type":"text","style":"lam","dx":20},"encoding":{"text":{"value":"= 610 nm"}}}]},
{"mark":{"type":"rule","color":"black","strokeWidth":1.5},"encoding":{"x":{"datum":6.39},"x2":{"datum":8.32},"y":{"datum":1.12}}},
{"mark":{"type":"rule","color":"#e3262a","strokeWidth":1.5},"encoding":{"x":{"datum":6.39},"x2":{"datum":8.32},"y":{"datum":0.78}}},
{"mark":{"type":"text","style":"leg","dx":5},"encoding":{"x":{"datum":8.32},"y":{"datum":1.12},"text":{"value":"Decay Curve"}}},
{"mark":{"type":"text","style":"leg","dx":1},"encoding":{"x":{"datum":8.32},"y":{"datum":0.78},"text":{"value":"Fitting Curve"}}}]}]},
{"width":483,"height":203,"view":{"stroke":"black","strokeWidth":1.5},"layer":[
{"data":{"name":"f"},"mark":{"type":"line","color":"black","strokeWidth":1.2},"encoding":{"x":{"field":"t","type":"quantitative","scale":{"domain":[0,30],"nice":false,"zero":false},"axis":{"title":"Time (ms)","values":[0,2.5,5,7.5,10,12.5,15,17.5,20,22.5,25,27.5,30],"labelExpr":"datum.value % 5 === 0 ? format(datum.value, 'd') : ''","tickSize":{"condition":{"test":"datum.value % 5 === 0","value":4},"value":2.5}}},"y":{"field":"v","type":"quantitative","scale":{"domain":[-0.04,3.55],"nice":false,"zero":false},"axis":{"title":"Log Intensity (a.u.)","values":[0,0.5,1,1.5,2,2.5,3,3.5],"labelExpr":"datum.value % 1 === 0 ? format(datum.value, 'd') : ''","tickSize":{"condition":{"test":"datum.value % 1 === 0","value":4},"value":2.5}}}}},
{"data":{"name":"fit"},"transform":[{"filter":"datum.p==='f'"}],"mark":{"type":"line","color":"#e3262a","strokeWidth":1.3},"encoding":{"x":{"field":"t","type":"quantitative"},"y":{"field":"v","type":"quantitative"}}},
{"data":{"name":"info"},"transform":[{"filter":"datum.p==='f'"}],"layer":[
{"encoding":{"x":{"datum":12.2},"y":{"datum":3.03}},"layer":[
{"mark":{"type":"text","style":"big"},"encoding":{"text":{"field":"lab"}}},
{"mark":{"type":"text","style":"big","dx":40},"encoding":{"text":{"value":"K"}}},
{"mark":{"type":"text","style":"sub","dx":57.9},"encoding":{"text":{"value":"3"}}},
{"mark":{"type":"text","style":"big","dx":65.4},"encoding":{"text":{"value":"Bi"}}},
{"mark":{"type":"text","style":"sub","dx":87.1},"encoding":{"text":{"field":"s1"}}},
{"mark":{"type":"text","style":"big","dx":105.9},"encoding":{"text":{"value":"Eu"}}},
{"mark":{"type":"text","style":"sub","dx":134},"encoding":{"text":{"field":"s2"}}},
{"mark":{"type":"text","style":"big","dx":152.7},"encoding":{"text":{"value":"TaP"}}},
{"mark":{"type":"text","style":"sub","dx":193.6},"encoding":{"text":{"value":"3"}}},
{"mark":{"type":"text","style":"big","dx":201.1},"encoding":{"text":{"value":"O"}}},
{"mark":{"type":"text","style":"sub","dx":219},"encoding":{"text":{"value":"13"}}}]},
{"mark":{"type":"text","style":"tau","dx":1.5},"encoding":{"x":{"datum":22.5},"y":{"datum":2.47},"text":{"field":"tau"}}},
{"encoding":{"x":{"datum":22.5},"y":{"datum":2.09}},"layer":[
{"mark":{"type":"text","style":"lam"},"encoding":{"text":{"value":"λ"}}},
{"mark":{"type":"text","style":"lsub","dx":8.5},"encoding":{"text":{"value":"ex"}}},
{"mark":{"type":"text","style":"lam","dx":20},"encoding":{"text":{"value":"= 393 nm"}}}]},
{"encoding":{"x":{"datum":22.5},"y":{"datum":1.68}},"layer":[
{"mark":{"type":"text","style":"lam"},"encoding":{"text":{"value":"λ"}}},
{"mark":{"type":"text","style":"lsub","dx":8.5},"encoding":{"text":{"value":"em"}}},
{"mark":{"type":"text","style":"lam","dx":20},"encoding":{"text":{"value":"= 610 nm"}}}]},
{"mark":{"type":"rule","color":"black","strokeWidth":1.5},"encoding":{"x":{"datum":6.72},"x2":{"datum":8.65},"y":{"datum":1.25}}},
{"mark":{"type":"rule","color":"#e3262a","strokeWidth":1.5},"encoding":{"x":{"datum":6.72},"x2":{"datum":8.65},"y":{"datum":0.9}}},
{"mark":{"type":"text","style":"leg","dx":5},"encoding":{"x":{"datum":8.65},"y":{"datum":1.25},"text":{"value":"Decay Curve"}}},
{"mark":{"type":"text","style":"leg","dx":1},"encoding":{"x":{"datum":8.65},"y":{"datum":0.9},"text":{"value":"Fitting Curve"}}}]}]}
],
"config":{
"view":{"stroke":"black","strokeWidth":1.5},
"axis":{"grid":false,"domainColor":"black","domainWidth":1.5,"tickColor":"black","tickWidth":1.2,"labelFont":"Liberation Sans","labelFontSize":11,"labelFontWeight":"bold","labelColor":"black","labelFlush":false,"labelOverlap":false,"titleFont":"Liberation Sans","titleFontSize":16,"titleFontWeight":"bold","titleColor":"black"},
"axisX":{"labelPadding":5,"titlePadding":2},
"axisY":{"labelPadding":6,"titlePadding":2},
"style":{
"big":{"font":"Liberation Serif","fontSize":23,"fontWeight":"bold","align":"left","baseline":"alphabetic","color":"black"},
"sub":{"font":"Liberation Serif","fontSize":15,"fontWeight":"bold","align":"left","baseline":"alphabetic","color":"black","dy":5},
"tau":{"font":"Liberation Serif","fontSize":16,"fontWeight":"bold","align":"left","baseline":"middle","color":"#e8404f"},
"lam":{"font":"Liberation Serif","fontSize":16,"fontWeight":"bold","align":"left","baseline":"middle","color":"#1f1f96"},
"lsub":{"font":"Liberation Serif","fontSize":10,"fontWeight":"bold","align":"left","baseline":"middle","color":"#1f1f96","dy":5},
"leg":{"font":"Liberation Serif","fontSize":15,"fontWeight":"bold","align":"left","baseline":"middle","color":"black"}
}
}
}
